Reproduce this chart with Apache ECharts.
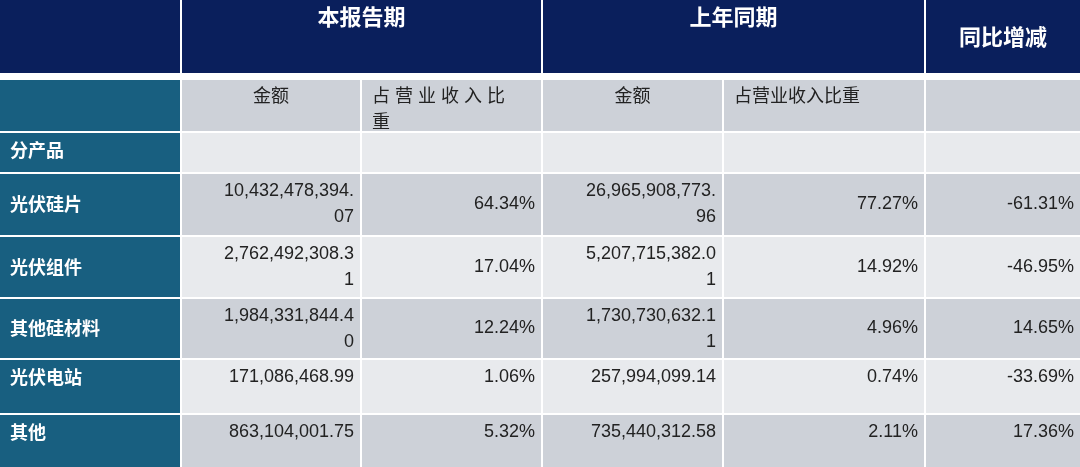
<!DOCTYPE html>
<html><head><meta charset="utf-8">
<script src="https://cdn.jsdelivr.net/npm/echarts@6/dist/echarts.min.js"></script>
<style>html,body{margin:0;padding:0;background:#fff}#chart{width:1080px;height:467px}</style>
</head><body><div id="chart"></div>
<script>
let chart = echarts.init(document.getElementById("chart"));

// table content
let products = ["光伏硅片", "光伏组件", "其他硅材料", "光伏电站", "其他"];
let amountNow = ["10,432,478,394.\n07", "2,762,492,308.3\n1", "1,984,331,844.4\n0", "171,086,468.99", "863,104,001.75"];
let shareNow = ["64.34%", "17.04%", "12.24%", "1.06%", "5.32%"];
let amountPrev = ["26,965,908,773.\n96", "5,207,715,382.0\n1", "1,730,730,632.1\n1", "257,994,099.14", "735,440,312.58"];
let sharePrev = ["77.27%", "14.92%", "4.96%", "0.74%", "2.11%"];
let change = ["-61.31%", "-46.95%", "14.65%", "-33.69%", "17.36%"];
let groupHeaders = ["本报告期", "上年同期", "同比增减"];
let subHeaders = ["金额", "占 营 业 收 入 比\n重", "金额", "占营业收入比重", ""];

// layout (pixel grid used as axis values)
let colEdges = [[0, 180], [182, 360], [362, 541], [543, 722], [724, 924], [926, 1080]];
let rowEdges = [[0, 73], [80, 131], [133, 172], [174, 235], [237, 297], [299, 358], [360, 413], [415, 467]];
let navy = "#0a1f5c", teal = "#185f80", dark = "#cdd1d8", light = "#e8eaed";

// cells: [c0, c1, r, fill, text, align, valign, textColor, bold, size]
let cells = [];
cells.push([0, 0, 0, navy, "", "center", "top", "#fff", true, 22]);
cells.push([1, 2, 0, navy, groupHeaders[0], "center", "top", "#fff", true, 22]);
cells.push([3, 4, 0, navy, groupHeaders[1], "center", "top", "#fff", true, 22]);
cells.push([5, 5, 0, navy, groupHeaders[2], "center", "middle", "#fff", true, 22]);
cells.push([0, 0, 1, teal, "", "left", "top", "#fff", true, 18]);
subHeaders.forEach((t, i) => {
	let al = (i === 0 || i === 2) ? "center" : "left";
	cells.push([i + 1, i + 1, 1, dark, t, al, "top", "#222", false, 18]);
});
cells.push([0, 0, 2, teal, "分产品", "left", "top", "#fff", true, 18]);
for (let c = 1; c <= 5; c++) cells.push([c, c, 2, light, "", "left", "top", "#222", false, 18]);
products.forEach((p, i) => {
	let r = i + 3;
	let fill = i % 2 === 0 ? dark : light;
	let va = i < 3 ? "middle" : "top";
	cells.push([0, 0, r, teal, p, "left", va, "#fff", true, 18]);
	cells.push([1, 1, r, fill, amountNow[i], "right", "top", "#222", false, 18]);
	cells.push([2, 2, r, fill, shareNow[i], "right", va, "#222", false, 18]);
	cells.push([3, 3, r, fill, amountPrev[i], "right", "top", "#222", false, 18]);
	cells.push([4, 4, r, fill, sharePrev[i], "right", va, "#222", false, 18]);
	cells.push([5, 5, r, fill, change[i], "right", va, "#222", false, 18]);
});

function renderItem(params, api) {
	let d = cells[params.dataIndex];
	let p0 = api.coord([colEdges[d[0]][0], rowEdges[d[2]][0]]);
	let p1 = api.coord([colEdges[d[1]][1], rowEdges[d[2]][1]]);
	let w = p1[0] - p0[0], h = p1[1] - p0[1];
	let pad = 10;
	let tx = d[5] === "center" ? p0[0] + w / 2 : d[5] === "left" ? p0[0] + pad : p1[0] - 6;
	let ty = d[6] === "middle" ? p0[1] + h / 2 : p0[1] + 4;
	return {
		type: "group",
		children: [
			{type: "rect", shape: {x: p0[0], y: p0[1], width: w, height: h}, style: {fill: d[3]}},
			{type: "text", style: {
				x: tx, y: ty, text: d[4], align: d[5], verticalAlign: d[6],
				fill: d[7], fontWeight: d[8] ? "bold" : "normal", fontSize: d[9], lineHeight: 26,
				fontFamily: d[8] ? "Noto Sans CJK SC" : "Liberation Sans Narrow, Liberation Sans, Noto Sans CJK SC"
			}}
		]
	};
}

chart.setOption({
	animation: false,
	grid: {left: 0, right: 0, top: 0, bottom: 0},
	xAxis: {type: "value", min: 0, max: 1080, show: false},
	yAxis: {type: "value", min: 0, max: 467, inverse: true, show: false},
	series: [{type: "custom", renderItem, data: cells.map((c, i) => [i]), encode: {x: 0}}]
});
</script></body></html>
